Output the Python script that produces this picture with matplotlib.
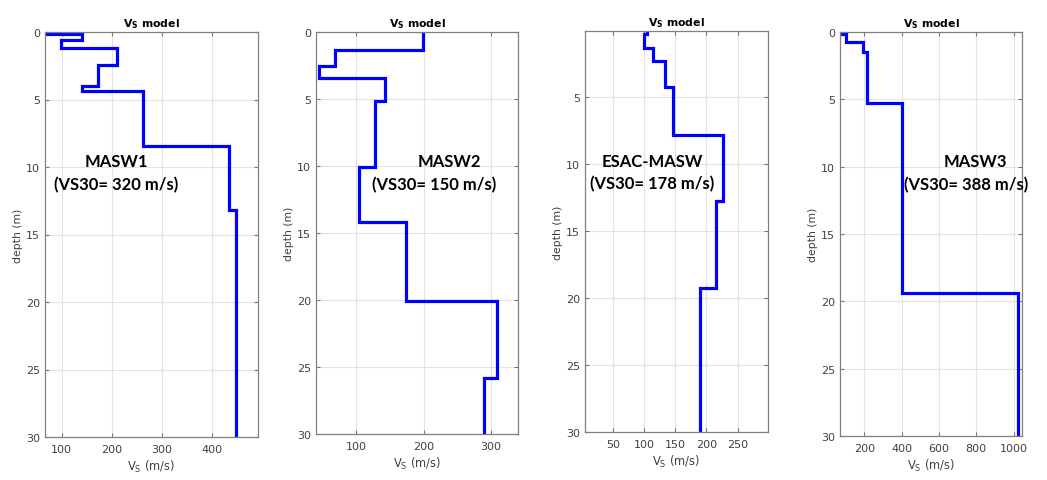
import numpy as np
import matplotlib
matplotlib.use('Agg')
import matplotlib.pyplot as plt

# layer boundaries (m) and Vs (m/s)
depth1 = [0, 0.15, 0.57, 1.19, 2.45, 4.0, 4.4, 8.45, 13.2, 30]
vs1 = [70, 140, 98, 210, 172, 141, 262, 435, 449]

depth2 = [0, 1.35, 2.55, 3.4, 5.15, 10.1, 14.15, 20.1, 25.85, 30]
vs2 = [199, 68, 45, 142, 127, 104, 173, 309, 289]

depth3 = [0.1, 0.35, 1.35, 2.3, 4.3, 7.85, 12.75, 19.3, 30]
vs3 = [104, 100, 115, 134, 147, 227, 215, 190]

depth4 = [0, 0.15, 0.75, 1.5, 5.25, 19.4, 30]
vs4 = [70, 100, 191, 214, 402, 1025]

names = ['MASW1', 'MASW2', 'ESAC-MASW', 'MASW3']
vs30 = [320, 150, 178, 388]

xlims = [(67, 493), (40, 340), (5, 299), (70, 1045)]
ylims = [(0, 30), (0, 30), (0.1, 30), (0, 30)]
xticks = [[100, 200, 300, 400], [100, 200, 300], [50, 100, 150, 200, 250],
          [200, 400, 600, 800, 1000]]
yticks = [[0, 5, 10, 15, 20, 25, 30], [0, 5, 10, 15, 20, 25, 30],
          [5, 10, 15, 20, 25, 30], [0, 5, 10, 15, 20, 25, 30]]

# label positions (Vs, depth) for the two text lines
lab1 = [(209, 9.55), (238, 9.63), (113, 9.8), (796, 9.58)]
lab2 = [(210, 11.26), (216, 11.33), (113, 11.45), (748, 11.3)]

# axes boxes in pixels: left, right, top, bottom
boxes = [(45, 258, 33, 438), (316, 518, 33, 435), (585, 768, 32, 433),
         (840, 1022, 33, 437)]

W, H = 1047, 481
fig = plt.figure(figsize=(W / 100, H / 100), dpi=100)

profiles = [(depth1, vs1), (depth2, vs2), (depth3, vs3), (depth4, vs4)]

for i, (d, v) in enumerate(profiles):
    l, r, t, b = boxes[i]
    ax = fig.add_axes([l / W, 1 - b / H, (r - l) / W, (b - t) / H])
    d = np.asarray(d)
    v = np.asarray(v)
    yy = np.repeat(d, 2)[1:-1]
    xx = np.repeat(v, 2)
    ax.plot(xx, yy, color=(0, 0, 1), lw=2.3, solid_joinstyle='miter')

    ax.set_xlim(*xlims[i])
    ax.set_ylim(ylims[i][1], ylims[i][0])
    ax.set_xticks(xticks[i])
    ax.set_yticks(yticks[i])
    ax.grid(True, color='#e3e3e3', lw=0.8)
    ax.set_axisbelow(True)
    ax.tick_params(direction='in', top=True, right=True, length=3,
                   labelsize=8, colors='#777777', labelcolor='#404040')
    ax.tick_params(axis='x', pad=5)
    for s in ax.spines.values():
        s.set_color('#808080')
        s.set_linewidth(0.9)

    ax.set_title(r'V$_\mathbf{S}$ model', fontsize=7.8, fontweight='bold', pad=4)
    ax.set_xlabel(r'V$_\mathrm{S}$ (m/s)', fontsize=8.3, color='#404040', labelpad=3)
    ax.set_ylabel('depth (m)', fontsize=7.8, color='#404040', labelpad=2)

    ax.text(lab1[i][0], lab1[i][1], names[i], ha='center', va='center',
            fontsize=12, fontweight='bold', family='Lato')
    ax.text(lab2[i][0], lab2[i][1], '(VS30= %d m/s)' % vs30[i], ha='center',
            va='center', fontsize=12, fontweight='bold', family='Lato')

fig.savefig('out.png', dpi=100)
